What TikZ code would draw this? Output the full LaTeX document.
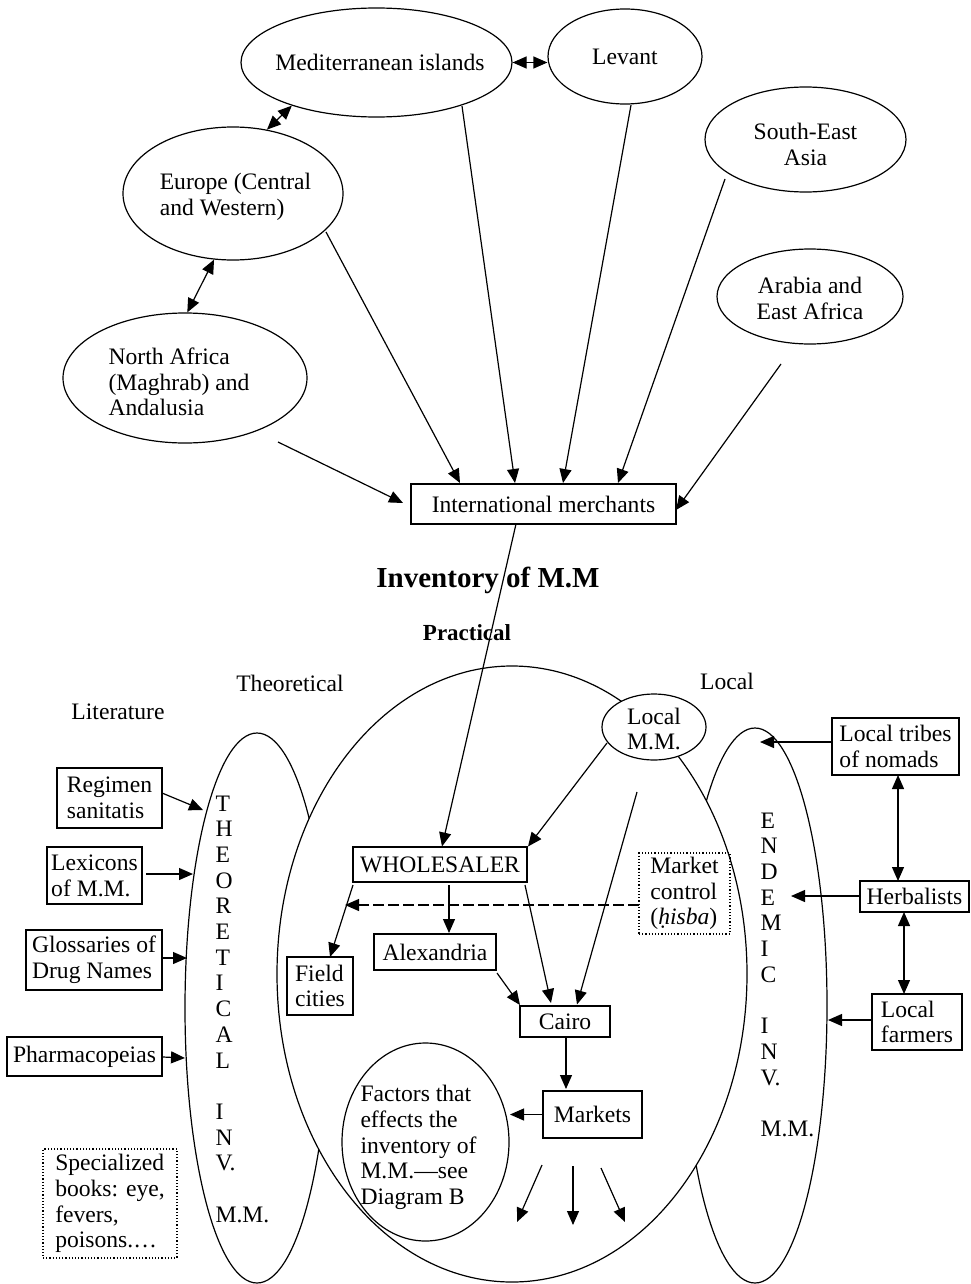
\documentclass[tikz,border=0pt]{standalone}
\usepackage{fontspec}
\setmainfont{Liberation Serif}
\usetikzlibrary{arrows.meta,calc,shapes.geometric}
\begin{document}
\begin{tikzpicture}[x=0.5pt,y=-0.5pt, line width=0.6pt,
  every node/.style={font=\fontsize{11.8}{12.85}\selectfont, inner sep=0pt},
  ell/.style={draw, ellipse},
  box/.style={draw, rectangle, align=left},
  dotbox/.style={draw, densely dotted, rectangle, align=left},
  arr/.style={-{Triangle[length=7pt,width=6pt]}},
  dbl/.style={{Triangle[length=7pt,width=6pt]}-{Triangle[length=7pt,width=6pt]}}]
\useasboundingbox (0,0) rectangle (970,1284);

% big ellipses (side ones first, central one filled on top)
\node[ell, minimum width=72pt, minimum height=275pt] (theo) at (257,1008) {};
\node[ell, minimum width=72pt, minimum height=277.5pt] (endem) at (755,1005.5) {};
\node[ell, fill=white, minimum width=235pt, minimum height=308pt] (prac) at (512,974) {};
\node[ell, fill=white, minimum width=52pt, minimum height=33pt, label={[align=center,yshift=-1pt]center:Local\\M.M.}] (localmm) at (654,727) {};
\node[ell, minimum width=83.5pt, minimum height=99pt, label={[align=left,xshift=-3.5pt,yshift=-2.75pt]center:Factors that\\effects the\\inventory of\\M.M.—see\\Diagram B}] (factors) at (425.5,1142) {};

% top ellipses
\node[ell, minimum width=135.5pt, minimum height=54.5pt, label={[xshift=1.75pt]center:Mediterranean islands}] (med) at (376.5,62.5) {};
\node[ell, minimum width=77pt, minimum height=47.5pt, label={center:Levant}] (lev) at (625,56.5) {};
\node[ell, minimum width=100.5pt, minimum height=52.5pt, label={[align=center,yshift=-2.5pt]center:South-East\\Asia}] (sea) at (805.5,139.5) {};
\node[ell, minimum width=93pt, minimum height=47.5pt, label={[align=center,yshift=-1pt]center:Arabia and\\East Africa}] (arab) at (810,296.5) {};
\node[ell, minimum width=110pt, minimum height=66.5pt, label={[align=left,xshift=1.25pt,yshift=-1.5pt]center:Europe (Central\\and Western)}] (eur) at (233,193.5) {};
\node[ell, minimum width=122pt, minimum height=65pt, label={[align=left,xshift=-3pt,yshift=-2pt]center:North Africa\\(Maghrab) and\\Andalusia}] (naf) at (185,378) {};

\node[box, minimum width=132.5pt, minimum height=20pt] (intl) at (543.5,504) {International merchants};

% headings
\node[font=\fontsize{14.5}{16}\selectfont\bfseries] (invtitle) at (488,580) {Inventory of M.M};
\node[font=\fontsize{11.5}{13}\selectfont\bfseries] (practical) at (467,633) {Practical};
\node (theolbl) at (290,683) {Theoretical};
\node (locallbl) at (727,681) {Local};
\node (litlbl) at (118,712) {Literature};

% vertical texts
\node[anchor=north west, align=left] (theotext) at (215,795) {T\\H\\E\\O\\R\\E\\T\\I\\C\\A\\L\\[12.85pt]I\\N\\V.\\[12.85pt]M.M.};
\node[anchor=north west, align=left] (endtext) at (760,812) {E\\N\\D\\E\\M\\I\\C\\[12.85pt]I\\N\\V.\\[12.85pt]M.M.};

% inner boxes
\node[box, minimum width=87pt, minimum height=17.5pt] (whole) at (440,864.5) {WHOLESALER};
\node[box, minimum width=33pt, minimum height=29pt] (field) at (320,986) {Field\\cities};
\node[box, minimum width=61pt, minimum height=18pt] (alex) at (435,952) {Alexandria};
\node[box, minimum width=45pt, minimum height=15.5pt] (cairo) at (565,1021.5) {Cairo};
\node[box, minimum width=49.5pt, minimum height=23.5pt] (markets) at (592.5,1114.5) {Markets};
\node[dotbox, minimum width=45.5pt, minimum height=40.5pt] (market) at (684.5,893.5) {Market\\control\\(\textit{ḥisba})};

% right boxes
\node[box, minimum width=63.5pt, minimum height=28.5pt] (tribes) at (895.5,746.5) {Local tribes\\of nomads};
\node[box, minimum width=54.5pt, minimum height=15.5pt] (herb) at (914.5,896.5) {Herbalists};
\node[box, minimum width=45pt, minimum height=28pt] (farmers) at (917,1022) {Local\\farmers};

% left boxes
\node[box, minimum width=52.5pt, minimum height=30pt] (regimen) at (109.5,798) {Regimen\\sanitatis};
\node[box, minimum width=47.5pt, minimum height=28.5pt] (lexicons) at (94.5,875.5) {Lexicons\\of M.M.};
\node[box, minimum width=68pt, minimum height=30pt] (gloss) at (94,960) {Glossaries of\\Drug Names};
\node[box, minimum width=77.5pt, minimum height=19.5pt] (pharma) at (84.5,1056.5) {Pharmacopeias};
\node[dotbox, minimum width=67pt, minimum height=54.5pt] (special) at (110,1203.5) {Specialized\\books: eye,\\fevers,\\poisons.\ldots};

% connectors top
\draw[dbl] (med.east) -- (med.east -| lev.west);
\draw[dbl] (eur.62) -- (med.207);
\draw[dbl] (eur.254) -- (naf.88);
\draw[arr] ($(naf.center)+(93,64)$) -- ($(intl.center)+(-140.5,-1)$);
\draw[arr] ($(eur.center)+(93,38.5)$) -- ($(intl.center)+(-83.5,-21)$);
\draw[arr] ($(med.center)+(85.5,43.5)$) -- ($(intl.center)+(-28.5,-21)$);
\draw[arr] ($(lev.center)+(6,48.5)$) -- ($(intl.center)+(19.5,-21)$);
\draw[arr] ($(sea.center)+(-80.5,39.5)$) -- ($(intl.center)+(74.5,-21)$);
\draw[arr] ($(arab.center)+(-29,67.5)$) -- ($(intl.center)+(132.5,6)$);

% practical
\draw[arr] ($(intl.center)+(-27.5,20)$) -- ($(whole.center)+(2,-18)$);
\draw[arr] ($(localmm.center)+(-47,16)$) -- ($(whole.center)+(88,-18)$);
\draw[arr] ($(localmm.center)+(-17,65)$) -- ($(cairo.center)+(12,-17)$);
\draw[arr] ($(whole.center)+(-87,20.5)$) -- ($(field.center)+(10,-29)$);
\draw[arr] ($(whole.center)+(9,20.5)$) -- ($(alex.center)+(14,-19)$);
\draw[arr] ($(whole.center)+(85,20.5)$) -- ($(cairo.center)+(-14,-18.5)$);
\draw[arr] ($(alex.center)+(62,21)$) -- ($(cairo.center)+(-45,-16.5)$);
\draw[arr] ($(cairo.center)+(1,15.5)$) -- ($(markets.center)+(-26.5,-25.5)$);
\draw[arr] (markets.west) -- ($(factors.center)+(84.5,-27.5)$);
\draw[arr] ($(markets.center)+(-50.5,50.5)$) -- ($(markets.center)+(-75.5,107.5)$);
\draw[arr] ($(markets.center)+(-19.5,51.5)$) -- ($(markets.center)+(-19.5,110.5)$);
\draw[arr] ($(markets.center)+(8.5,53.5)$) -- ($(markets.center)+(32.5,107.5)$);
\draw[arr, dash pattern=on 5.5pt off 2pt] ($(market.center)+(-45.5,11.5)$) -- ($(whole.center)+(-95,40.5)$);

% literature
\draw[arr] ($(regimen.center)+(52.5,-5)$) -- ($(theo.center)+(-54,-198)$);
\draw[arr] ($(lexicons.center)+(51.5,-1.5)$) -- ($(theo.center)+(-64,-134)$);
\draw[arr] ($(gloss.center)+(69,-2)$) -- ($(theo.center)+(-70,-50)$);
\draw[arr] ($(pharma.center)+(78.5,0.5)$) -- ($(theo.center)+(-72,50)$);

% local
\draw[arr] ($(tribes.center)+(-63.5,-4.5)$) -- ($(endem.center)+(5,-263.5)$);
\draw[arr] ($(herb.center)+(-54.5,-0.5)$) -- ($(endem.center)+(36,-109.5)$);
\draw[arr] ($(farmers.center)+(-45,-2)$) -- ($(endem.center)+(73,14.5)$);
\draw[dbl] ($(tribes.center)+(2.5,28.5)$) -- ($(herb.center)+(-16.5,-15.5)$);
\draw[dbl] ($(herb.center)+(-10.5,15.5)$) -- ($(farmers.center)+(-13,-28)$);
\end{tikzpicture}
\end{document}
